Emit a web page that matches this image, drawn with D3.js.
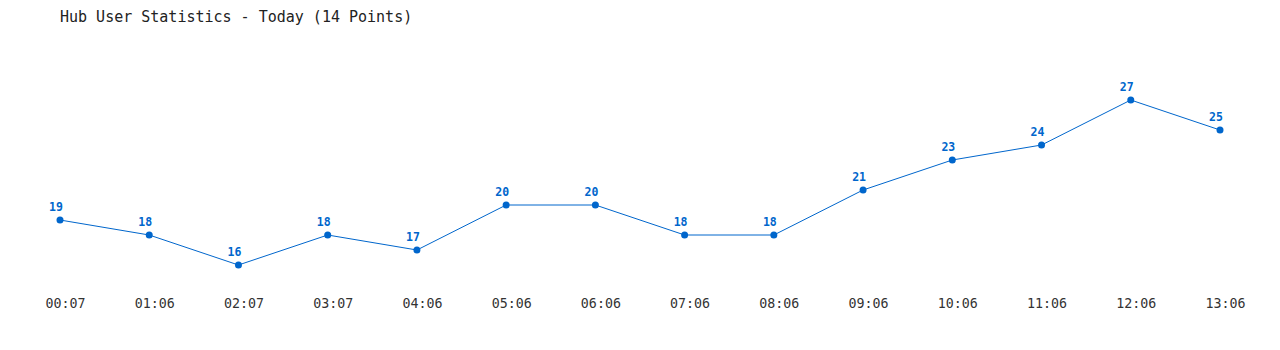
<!DOCTYPE html>
<html>
<head>
<meta charset="utf-8">
<script src="https://cdn.jsdelivr.net/npm/d3@7"></script>
<style>
body{margin:0;background:#fff}
text{font-family:"DejaVu Sans Mono","Liberation Mono",monospace}
</style>
</head>
<body>
<div id="chart"></div>
<script>
var times = ['00:07','01:06','02:07','03:07','04:06','05:06','06:06','07:06','08:06','09:06','10:06','11:06','12:06','13:06']
var users = [19,18,16,18,17,20,20,18,18,21,23,24,27,25]
var title = 'Hub User Statistics - Today (14 Points)'
var lineColor = '#0066cc'

var width = 1280
var height = 350
var svg = d3.select('#chart').append('svg')
            .attr('width', width)
            .attr('height', height)

var x = d3.scalePoint().domain(times).range([60,1220])
var y = d3.scaleLinear().domain([16,27]).range([265,100])

svg.append('text')
   .attr('x',60).attr('y',22)
   .style('font-size','15px')
   .style('fill','#222')
   .text(title)

// tick labels sit a little right of the points in the original
var xAxis = svg.append('g').attr('transform','translate(5,291)')
  .call(d3.axisBottom(x).tickSize(0).tickPadding(8))
xAxis.select('.domain').remove()
xAxis.selectAll('text')
     .style('font-family','"DejaVu Sans Mono",monospace')
     .style('font-size','13.3px')
     .style('fill','#333')

var line = d3.line().x((d,i)=>x(times[i])).y(d=>y(d))
svg.append('path').datum(users)
   .attr('d',line)
   .attr('fill','none')
   .attr('stroke',lineColor)
   .attr('stroke-width',1)

svg.selectAll('circle.pt').data(users).enter().append('circle')
   .attr('class','pt')
   .attr('cx',(d,i)=>x(times[i]))
   .attr('cy',d=>y(d))
   .attr('r',3.5)
   .attr('fill',lineColor)

svg.selectAll('text.lbl').data(users).enter().append('text')
   .attr('class','lbl')
   .attr('x',(d,i)=>x(times[i])-4)
   .attr('y',d=>y(d)-9)
   .attr('text-anchor','middle')
   .style('font-size','11.5px')
   .style('font-weight','bold')
   .style('fill',lineColor)
   .text(d=>d)
</script>
</body>
</html>
